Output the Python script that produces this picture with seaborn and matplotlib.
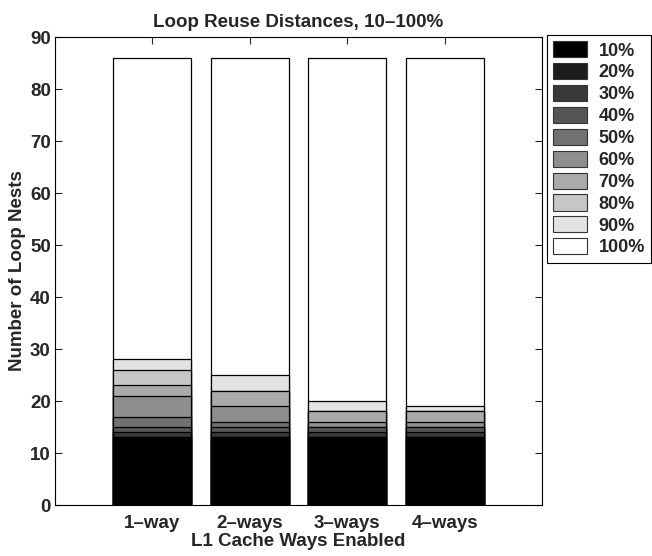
import matplotlib
matplotlib.use("Agg")
import matplotlib.pyplot as plt
from matplotlib.patches import Patch
import numpy as np
import pandas as pd
import seaborn as sns

# Number of loop nests per reuse-distance bucket, for each L1 configuration
categories = ["1\u2013way", "2\u2013ways", "3\u2013ways", "4\u2013ways"]
levels = ["10%", "20%", "30%", "40%", "50%", "60%", "70%", "80%", "90%", "100%"]
p10 = [13, 13, 13, 13]
p20 = [0, 0, 0, 0]
p30 = [1, 1, 1, 1]
p40 = [1, 1, 1, 1]
p50 = [2, 1, 0, 0]
p60 = [4, 3, 1, 1]
p70 = [2, 3, 2, 2]
p80 = [3, 0, 0, 0]
p90 = [2, 3, 2, 1]
p100 = [58, 61, 66, 67]
series = [p10, p20, p30, p40, p50, p60, p70, p80, p90, p100]

sns.set_style("ticks")
plt.rcParams["font.family"] = ["Liberation Sans", "DejaVu Sans"]
plt.rcParams["font.weight"] = "bold"
FS = 13.5

grays = [str(i / 9) for i in range(10)]

fig = plt.figure(figsize=(6.52, 5.56), dpi=100)
ax = fig.add_axes([55 / 652, 1 - 505 / 556, (542 - 55) / 652, (505 - 37) / 556])

cum = np.cumsum(np.array(series), axis=0)
# draw cumulative totals from the top bucket down so each layer shows as a stacked segment
for i in range(len(levels) - 1, -1, -1):
    df = pd.DataFrame({"config": categories, "count": cum[i]})
    sns.barplot(data=df, x="config", y="count", color=grays[i], saturation=1,
                edgecolor="black", linewidth=0.9, width=0.8, ax=ax, zorder=2 + (9 - i))

ax.set_xlim(-1, 4)
ax.set_ylim(0, 90)
ax.set_yticks(np.arange(0, 91, 10))
ax.tick_params(direction="in", top=True, right=True, length=5, width=0.8,
               labelsize=FS)
ax.tick_params(axis="y", pad=3)
ax.tick_params(axis="x", pad=7)
for lab in ax.get_xticklabels() + ax.get_yticklabels():
    lab.set_fontweight("bold")
for s in ax.spines.values():
    s.set_linewidth(0.8)
    s.set_color("black")

ax.set_title("Loop Reuse Distances, 10\u2013100%", fontsize=FS, fontweight="bold", pad=7)
ax.set_xlabel("L1 Cache Ways Enabled", fontsize=FS, fontweight="bold", labelpad=1)
ax.set_ylabel("Number of Loop Nests", fontsize=FS, fontweight="bold", labelpad=3)

handles = [Patch(facecolor=grays[i], edgecolor="#333333", linewidth=0.8) for i in range(10)]
leg = fig.legend(handles, levels, loc="upper left", bbox_to_anchor=(547 / 652, 1 - 35 / 556),
                 frameon=True, fancybox=False, edgecolor="black", framealpha=1,
                 handlelength=1.85, handleheight=1.0, labelspacing=0.2,
                 handletextpad=0.65, borderpad=0.35, borderaxespad=0,
                 prop={"weight": "bold", "size": 13})
leg.get_frame().set_linewidth(0.8)

fig.savefig("out.png", dpi=100)
